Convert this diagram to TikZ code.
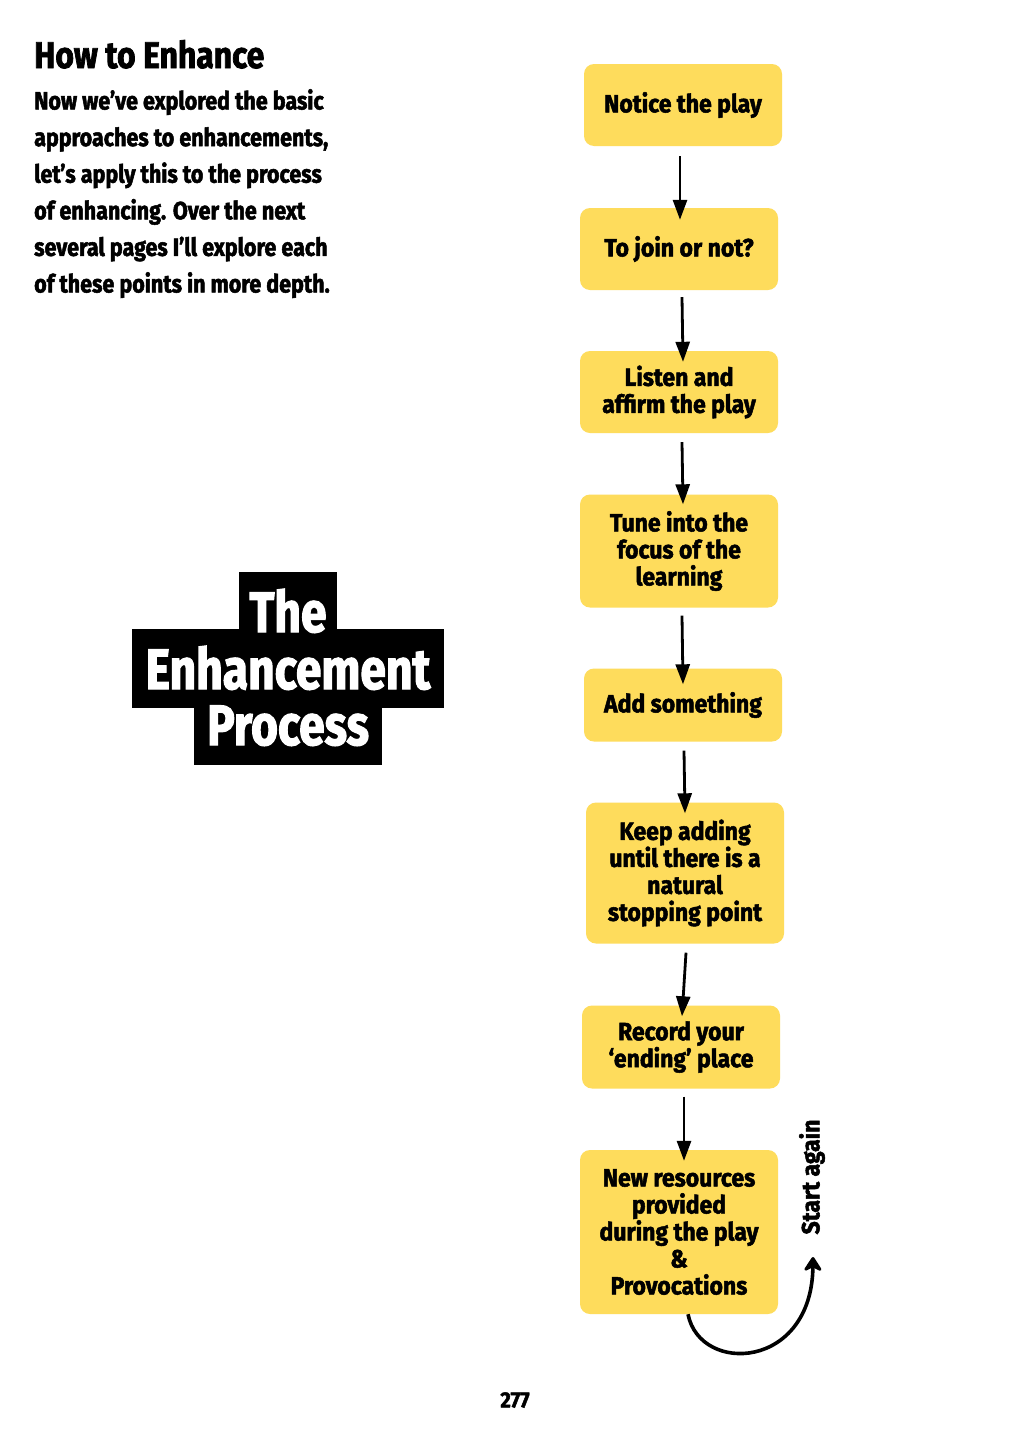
\documentclass[tikz,border=0pt]{standalone}
\usepackage{fontspec}
\setmainfont{Fira Sans}[FakeStretch=0.85, BoldFont={Fira Sans Bold}, BoldFeatures={FakeStretch=0.86, FakeBold=2}]
\newfontfamily\boxfont{Fira Sans Bold}[FakeStretch=0.92, FakeBold=2]
\newfontfamily\bannerfont{Fira Sans Bold}[FakeStretch=0.81, FakeBold=2]
\usetikzlibrary{arrows.meta}
\definecolor{boxyellow}{RGB}{254,220,92}
\tikzset{
  stepbox/.style={fill=boxyellow, rounded corners=10pt, minimum width=198pt, align=center, inner sep=0pt,
    font=\boxfont\fontsize{25}{27}\selectfont},
  arr/.style={line width=2.8pt, -{Triangle[length=20pt,width=14pt]}},
  bannertext/.style={text=white, font=\bannerfont\fontsize{57}{57}\selectfont, inner sep=0pt, anchor=base}
}
\begin{document}
\begin{tikzpicture}[x=1pt,y=-1pt]
\useasboundingbox (0,0) rectangle (1024,1454);
\fill[white] (0,0) rectangle (1024,1454);

% heading and intro
\node[anchor=base west, inner sep=0pt, font=\bfseries\fontsize{37}{40}\selectfont] (title) at (34,68) {How to Enhance};
\node[anchor=north west, inner sep=0pt, align=left, font=\bfseries\fontsize{25}{36.6}\selectfont] (intro) at (34,89)
 {Now we’ve explored the basic\\approaches to enhancements,\\let’s apply this to the process\\of enhancing. Over the next\\several pages I’ll explore each\\of these points in more depth.};

% banner
\fill[black] (239,572) rectangle (337,630);
\fill[black] (132,629) rectangle (444,708);
\fill[black] (194,707) rectangle (382,765);
\node[bannertext] (bt1) at (288,632) {The};
\node[bannertext] (bt2) at (288,689) {Enhancement};
\node[bannertext] (bt3) at (288,745) {Process};

% process boxes
\node[stepbox, minimum height=82pt] (n1) at (683,105) {Notice the play};
\node[stepbox, minimum height=82pt] (n2) at (679,249) {To join or not?};
\node[stepbox, minimum height=82pt] (n3) at (679,392) {Listen and\\affirm the play};
\node[stepbox, minimum height=113pt] (n4) at (679,551) {Tune into the\\focus of the\\learning};
\node[stepbox, minimum height=73pt] (n5) at (683,705) {Add something};
\node[stepbox, minimum height=141pt] (n6) at (685,873) {Keep adding\\until there is a\\natural\\stopping point};
\node[stepbox, minimum height=83pt] (n7) at (681,1047) {Record your\\‘ending’ place};
\node[stepbox, minimum height=164pt] (n8) at (679,1232) {New resources\\provided\\during the play\\\&\\Provocations};

% connectors
\draw[arr] ([xshift=-3pt,yshift=-10pt]n1.south) -- ([xshift=1pt,yshift=-12pt]n2.north);
\draw[arr] ([xshift=3pt,yshift=-7pt]n2.south) -- ([xshift=4pt,yshift=-11pt]n3.north);
\draw[arr] ([xshift=3pt,yshift=-9pt]n3.south) -- ([xshift=4pt,yshift=-10pt]n4.north);
\draw[arr] ([xshift=3pt,yshift=-8pt]n4.south) -- ([xshift=0pt,yshift=-16pt]n5.north);
\draw[arr] ([xshift=1pt,yshift=-9pt]n5.south) -- ([xshift=0pt,yshift=-11pt]n6.north);
\draw[arr] ([xshift=1pt,yshift=-9pt]n6.south) -- ([xshift=1pt,yshift=-11pt]n7.north);
\draw[arr] ([xshift=3pt,yshift=-8pt]n7.south) -- ([xshift=5pt,yshift=-11pt]n8.north);

% start again
\coordinate (again) at (813,1257);
\draw[line width=3.6pt, -{Stealth[length=17pt,width=22pt,round]}] ([xshift=9pt]n8.south) .. controls (700,1375) and (812,1370) .. (again);
\node[rotate=90, inner sep=0pt, font=\boxfont\fontsize{25}{27}\selectfont] (sa) at (812,1177) {Start again};

% page number
\node[inner sep=0pt, font=\boxfont\fontsize{22}{24}\selectfont] (page) at (515,1400) {277};
\end{tikzpicture}
\end{document}
